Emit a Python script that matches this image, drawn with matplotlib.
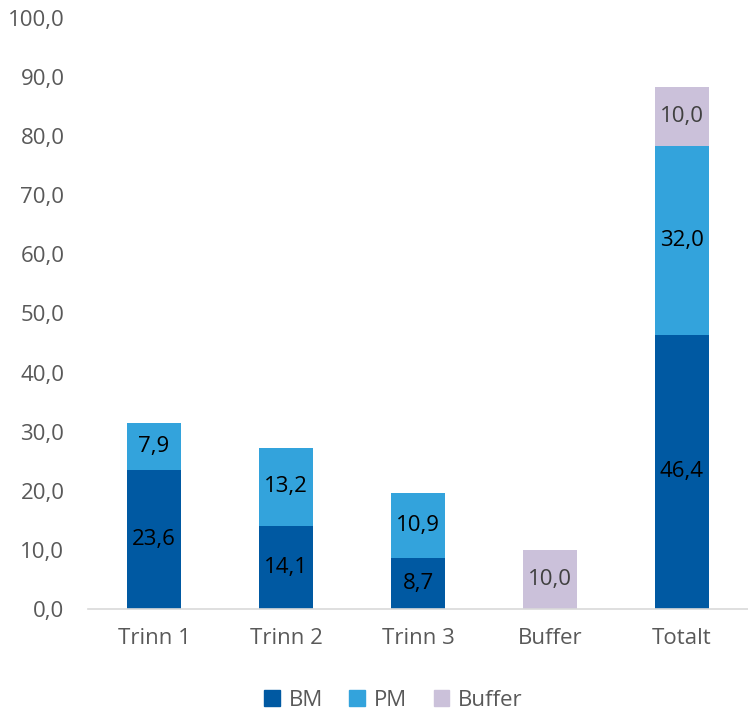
import matplotlib
matplotlib.use("Agg")
import matplotlib.pyplot as plt
from matplotlib.patches import Patch

categories = ["Trinn 1", "Trinn 2", "Trinn 3", "Buffer", "Totalt"]
bm = [23.6, 14.1, 8.7, 0.0, 46.4]
pm = [7.9, 13.2, 10.9, 0.0, 32.0]
buffer = [0.0, 0.0, 0.0, 10.0, 10.0]
yticks = [0, 10, 20, 30, 40, 50, 60, 70, 80, 90, 100]

c_bm = "#0059A2"
c_pm = "#33A3DC"
c_buf = "#CBC1DA"
tick_col = "#595959"

plt.rcParams['font.family'] = ['Open Sans', 'DejaVu Sans']

fig = plt.figure(figsize=(7.48, 7.10), dpi=100)
ax = fig.add_axes([88/748, 1-609/710, 660/748, (609-18)/710])

x = list(range(len(categories)))
w = 0.41
b1 = ax.bar(x, bm, w, color=c_bm)
b2 = ax.bar(x, pm, w, bottom=bm, color=c_pm)
bot3 = [a + b for a, b in zip(bm, pm)]
b3 = ax.bar(x, buffer, w, bottom=bot3, color=c_buf)

fs = 16
def lab(bars, vals, bottoms, col):
    for r, v, b in zip(bars, vals, bottoms):
        if v > 0:
            ax.text(r.get_x() + r.get_width()/2, b + v/2, f"{v:.1f}".replace('.', ','),
                    ha='center', va='center', fontsize=fs, color=col)

lab(b1, bm, [0]*5, "black")
lab(b2, pm, bm, "black")
lab(b3, buffer, bot3, "#404040")

ax.set_xlim(-0.5, len(categories) - 0.5)
ax.set_ylim(0, 100)
ax.set_yticks(yticks)
ax.set_yticklabels([f"{t:.1f}".replace('.', ',') for t in yticks])
ax.set_xticks(x)
ax.set_xticklabels(categories)
ax.tick_params(axis='both', length=0, labelsize=fs, colors=tick_col)
ax.tick_params(axis='y', pad=17)
ax.tick_params(axis='x', pad=14)
for s in ['top', 'right', 'left']:
    ax.spines[s].set_visible(False)
ax.spines['bottom'].set_color('#D9D9D9')
ax.spines['bottom'].set_linewidth(1.2)

handles = [Patch(color=c_bm, label='BM'), Patch(color=c_pm, label='PM'), Patch(color=c_buf, label='Buffer')]
fig.legend(handles=handles, loc='center', bbox_to_anchor=(0.526, 1-700/710), ncol=3,
           frameon=False, fontsize=fs, handlelength=0.7, handleheight=0.7,
           handletextpad=0.4, columnspacing=1.2, labelcolor=tick_col)

fig.savefig("out.png", dpi=100)
